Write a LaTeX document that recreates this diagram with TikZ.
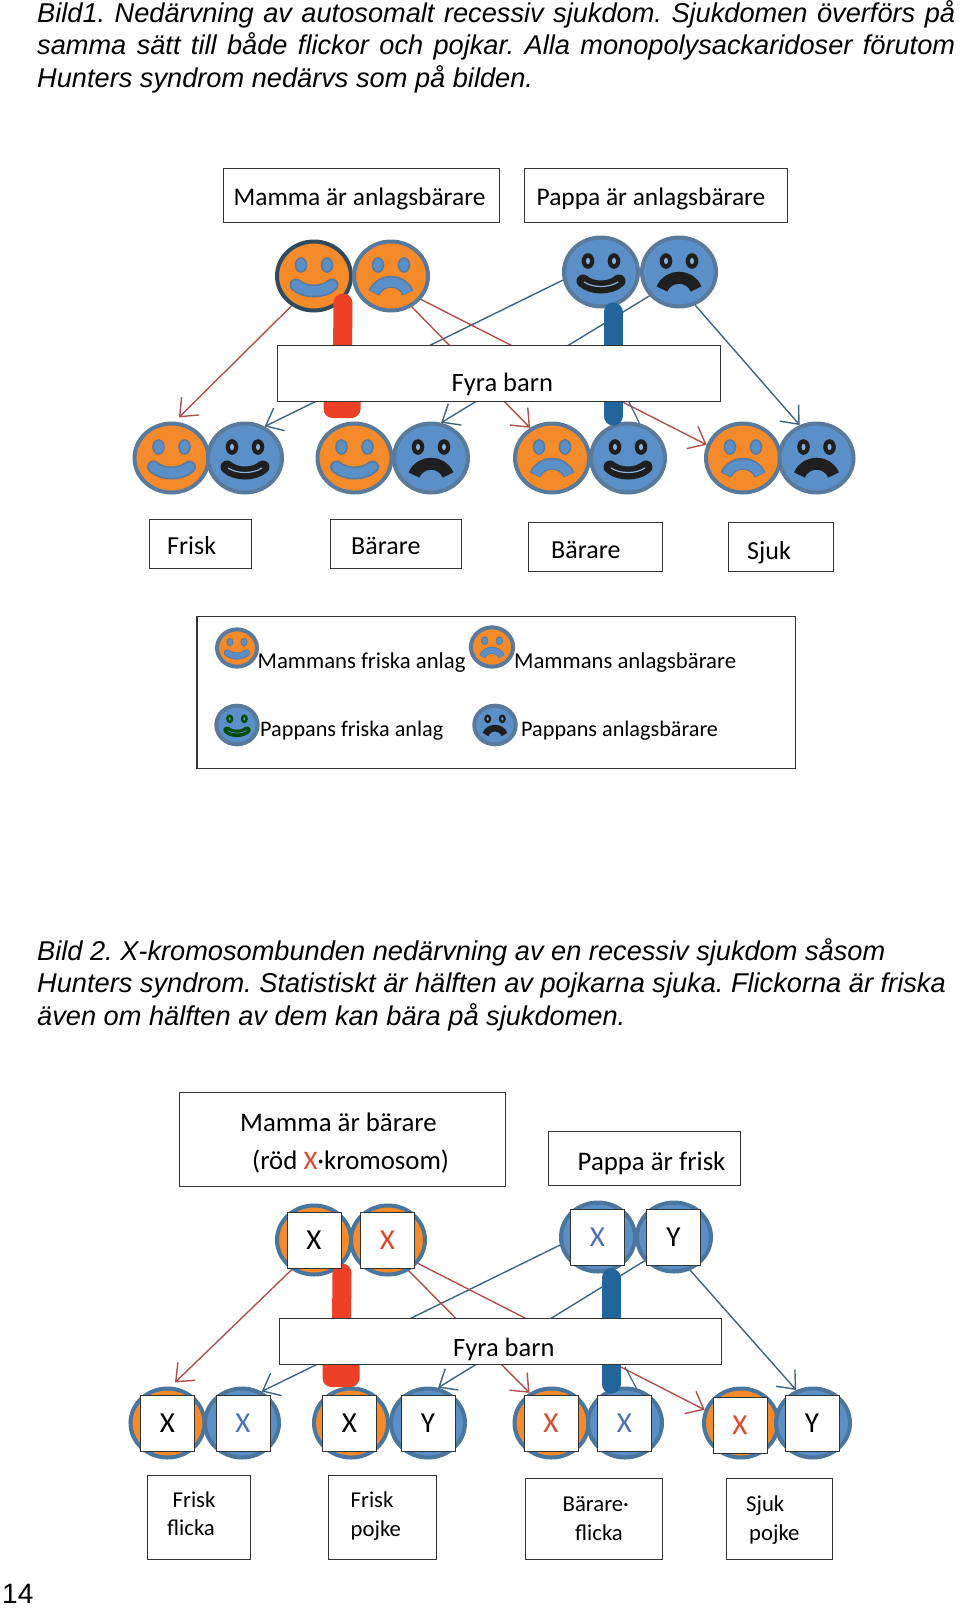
\documentclass[tikz,border=0pt]{standalone}
\usepackage{fontspec}
\setmainfont{Carlito}
\newfontfamily\capfont{Liberation Sans}
\usetikzlibrary{arrows.meta,shapes.geometric}

\definecolor{orangeface}{HTML}{F58A2A}
\definecolor{blueface}{HTML}{5B8FC7}
\definecolor{rimline}{HTML}{5A7A9C}
\definecolor{redline}{HTML}{B0504A}
\definecolor{blueline}{HTML}{3F6480}
\definecolor{redbarc}{HTML}{EE4027}
\definecolor{bluebarc}{HTML}{22649C}
\definecolor{xred}{HTML}{E2462A}
\definecolor{xblue}{HTML}{4A70B8}
% face kinds: fill, rim, feature, glint
\colorlet{mamfill}{orangeface}\colorlet{mamrim}{rimline}\colorlet{mamfeat}{blueface}\colorlet{mamglint}{blueface}
\colorlet{mamedge}{rimline}
\colorlet{mtopfill}{orangeface}\colorlet{mtoprim}{blueline!75!black}\colorlet{mtopfeat}{blueface}\colorlet{mtopglint}{blueface}
\colorlet{mtopedge}{rimline}
\colorlet{papfill}{blueface}\colorlet{paprim}{rimline}\colorlet{papfeat}{black!88}\colorlet{papglint}{blueface!70!white}
\colorlet{papedge}{black!88}
\colorlet{grnfill}{blueface}\colorlet{grnrim}{rimline}\colorlet{grnfeat}{green!30!black}\colorlet{grnglint}{blueface}
\colorlet{grnedge}{green!30!black}

\tikzset{
  face/.style={ellipse,minimum width=74pt,minimum height=69pt,inner sep=0pt,line width=4pt},
  mamface/.style={face,fill=orangeface,draw=blueline!60!blueface},
  papface/.style={face,fill=blueface,draw=blueline!60!blueface},
  labelbox/.style={rectangle,anchor=north west,draw=black!80,line width=1.1pt,fill=white,inner sep=0pt},
  labeltext/.style={anchor=base west,inner sep=0pt,font=\fontsize{26}{30}\selectfont},
  headtext/.style={labeltext,font=\fontsize{25.4}{30}\selectfont},
  widetext/.style={labeltext,font=\fontsize{26.8}{30}\selectfont},
  smalltext/.style={anchor=base west,inner sep=0pt,font=\fontsize{22.7}{27}\selectfont},
  dadtext/.style={smalltext,font=\fontsize{22.2}{27}\selectfont},
  captext/.style={anchor=base west,inner sep=0pt,font=\capfont\itshape\fontsize{27.2}{33}\selectfont},
  xbox/.style={rectangle,draw=black!80,line width=1pt,fill=white,inner sep=0pt,minimum width=54pt,minimum height=56pt,font=\fontsize{29}{32}\selectfont},
  redarrow/.style={draw=redline,line width=1.4pt,-{Straight Barb[length=15pt,width=25pt]}},
  bluearrow/.style={draw=blueline,line width=1.4pt,-{Straight Barb[length=15pt,width=25pt]}},
  redbar/.style={draw=redbarc,line width=19pt,line cap=round},
  bluebar/.style={draw=bluebarc,line width=19pt,line cap=round},
  redblob/.style={rectangle,fill=redbarc,rounded corners=9pt,inner sep=0pt,minimum width=37pt,minimum height=30pt},
}

\newcommand{\smileface}[5]{% name, place, scale, kind, mouth
  \begin{scope}[shift={#2},scale=#3,transform shape]
    \def\facescale{#3}
    \node[face,fill=#4fill,draw=#4rim] (#1) at (0,0) {};
    \draw[draw=#4edge,fill=#4feat,line width=#3*1.6pt] (-13,-11) ellipse (5.5 and 7);
    \draw[draw=#4edge,fill=#4feat,line width=#3*1.6pt] (13,-11) ellipse (5.5 and 7);
    \fill[#4glint] (-13,-11) ellipse (2 and 3.2);
    \fill[#4glint] (13,-11) ellipse (2 and 3.2);
    \csname mouth#5\endcsname{#4}
  \end{scope}}
\newcommand{\mouthsmile}[1]{%
  \draw[#1edge,line width=\facescale*13pt,line cap=round] (-18,9) .. controls (-9,17) and (9,17) .. (18,9);
  \draw[#1feat,line width=\facescale*9.5pt,line cap=round] (-18,9) .. controls (-9,17) and (9,17) .. (18,9);
  \draw[#1glint,line width=\facescale*1.2pt] (-17,10) .. controls (-8,16) and (8,16) .. (17,10);}
\newcommand{\mouthsad}[1]{%
  \draw[#1edge,line width=\facescale*12pt] (-17,17) .. controls (-11,2) and (11,2) .. (17,17);
  \draw[#1feat,line width=\facescale*9pt] (-16.5,16.5) .. controls (-11,2.5) and (11,2.5) .. (16.5,16.5);}

\begin{document}
\begin{tikzpicture}[x=1pt,y=-1pt]
\useasboundingbox (0,0) rectangle (960,1611);
\fill[white] (0,0) rectangle (960,1611);

% Caption 1
\frenchspacing
\node[captext] (capa) at (37,22.5) {\makebox[918pt][s]{Bild1. Nedärvning av autosomalt recessiv sjukdom. Sjukdomen överförs på}};
\node[captext] (capb) at (37,55) {\makebox[918pt][s]{samma sätt till både flickor och pojkar. Alla monopolysackaridoser förutom}};
\node[captext] (capc) at (37,87.5) {Hunters syndrom nedärvs som på bilden.};

% Parents, top picture
\node[labelbox,minimum width=276pt,minimum height=54pt] (mamA) at (222.5,168) {};
\node[labelbox,minimum width=263pt,minimum height=54pt] (papA) at (523.5,168) {};
\node[headtext] (mamAt) at (233.5,205) {Mamma är anlagsbärare};
\node[headtext] (papAt) at (536.5,205) {Pappa är anlagsbärare};

\smileface{mA}{(314,276)}{1}{mtop}{smile}
\smileface{mB}{(391,276)}{1}{mam}{sad}
\smileface{pA}{(601,272)}{1}{pap}{smile}
\smileface{pB}{(679,272)}{1}{pap}{sad}

% Children, top picture
\smileface{cA}{(171.5,458)}{1}{mam}{smile}
\smileface{cB}{(245,458)}{1}{pap}{smile}
\smileface{cC}{(354.5,458)}{1}{mam}{smile}
\smileface{cD}{(431,458)}{1}{pap}{sad}
\smileface{cE}{(552,458)}{1}{mam}{sad}
\smileface{cF}{(628,458)}{1}{pap}{smile}
\smileface{cG}{(743,458)}{1}{mam}{sad}
\smileface{cH}{(816.5,458)}{1}{pap}{sad}

% Lines of descent
\draw[redarrow,shorten >=6pt] (mA.233) -- (cA.85);
\draw[bluearrow] (pA.192) -- (cB.58);
\draw[redarrow] (mB.304) -- (cE.126);
\draw[bluearrow] (pB.219) -- (cD.74);
\draw[redarrow] (mB.322) -- (cG.160);
\draw[bluearrow] (pB.296) -- (cH.117);

% Thick bars
\coordinate (rbarA) at (343,303);
\coordinate (bbarA) at (613,312);
\coordinate (bbarB) at (613,416);
\node[redblob] (rblobA) at (342,403) {};
\draw[redbar] (rbarA) -- (rblobA.center);
\draw[bluebar] (bbarA) -- (bbarB);
\coordinate (stubA) at (627,398);
\draw[blueline,line width=1.2pt] (stubA) -- (cF.72);

\node[labelbox,minimum width=443pt,minimum height=56pt] (fyraA) at (277,345) {};
\node[labeltext,font=\fontsize{26.5}{30}\selectfont] (fyraAt) at (451.5,391.5) {Fyra barn};

% Names under the children
\node[labelbox,minimum width=102pt,minimum height=49pt] (friskA) at (148.5,518.5) {};
\node[labelbox,minimum width=130.5pt,minimum height=49pt] (barA) at (330,518.5) {};
\node[labelbox,minimum width=134pt,minimum height=49pt] (barB) at (527.5,522) {};
\node[labelbox,minimum width=105.5pt,minimum height=49pt] (sjukA) at (727.5,522) {};
\node[labeltext] (friskAt) at (167,554.5) {Frisk};
\node[labeltext] (barAt) at (351,554.5) {Bärare};
\node[labeltext] (barBt) at (551,558.5) {Bärare};
\node[labeltext] (sjukAt) at (747,559) {Sjuk};

% Legend
\node[labelbox,minimum width=598.5pt,minimum height=152pt,line width=1.6pt] (legend) at (196,615.5) {};
\smileface{lA}{(237,648)}{.54}{mam}{smile}
\smileface{lB}{(492,647)}{.57}{mam}{sad}
\smileface{lC}{(237,725)}{.56}{grn}{smile}
\smileface{lD}{(495,725)}{.56}{pap}{sad}
\node[smalltext] (lAt) at (257.5,668) {Mammans friska anlag};
\node[smalltext] (lBt) at (514,668) {Mammans anlagsbärare};
\node[dadtext] (lCt) at (260,736.5) {Pappans friska anlag};
\node[dadtext] (lDt) at (521,736.5) {Pappans anlagsbärare};

% Caption 2
\node[captext] (capd) at (37,960) {Bild 2. X-kromosombunden nedärvning av en recessiv sjukdom såsom};
\node[captext] (cape) at (37,992.5) {Hunters syndrom. Statistiskt är hälften av pojkarna sjuka. Flickorna är friska};
\node[captext] (capf) at (37,1025) {även om hälften av dem kan bära på sjukdomen.};

% Parents, bottom picture
\node[labelbox,minimum width=326pt,minimum height=94pt] (mamB) at (178.5,1091.5) {};
\node[labelbox,minimum width=192pt,minimum height=54pt] (papB) at (547.5,1130.5) {};
\node[widetext] (mamBt) at (240,1131.5) {Mamma är bärare};
\node[widetext] (mamCt) at (252,1169.5) {(röd {\color{xred}X}·kromosom)};
\node[widetext] (papBt) at (577.5,1170.5) {Pappa är frisk};

\node[mamface] (xmA) at (314,1240) {};
\node[mamface] (xmB) at (388,1240) {};
\node[papface] (xpA) at (598,1237) {};
\node[papface] (xpB) at (674,1237) {};

\node[mamface] (xcA) at (167.5,1423) {};
\node[papface] (xcB) at (242,1423) {};
\node[mamface] (xcC) at (351,1423) {};
\node[papface] (xcD) at (428,1423) {};
\node[mamface] (xcE) at (551.5,1423) {};
\node[papface] (xcF) at (625,1423) {};
\node[mamface] (xcG) at (741,1423) {};
\node[papface] (xcH) at (813,1423) {};

% Lines of descent
\draw[redarrow,shorten >=6pt] (xmA.233) -- (xcA.85);
\draw[bluearrow] (xpA.192) -- (xcB.58);
\draw[redarrow] (xmB.304) -- (xcE.126);
\draw[bluearrow] (xpB.219) -- (xcD.74);
\draw[redarrow] (xmB.322) -- (xcG.160);
\draw[bluearrow] (xpB.296) -- (xcH.117);

% Thick bars
\coordinate (rbarB) at (342,1273);
\coordinate (bbarC) at (611,1278);
\coordinate (bbarD) at (611,1384);
\node[redblob] (rblobB) at (341,1372) {};
\draw[redbar] (rbarB) -- (rblobB.center);
\draw[bluebar] (bbarC) -- (bbarD);
\coordinate (stubB) at (625,1367);
\draw[blueline,line width=1.2pt] (stubB) -- (xcF.72);

\node[labelbox,minimum width=442pt,minimum height=46pt] (fyraB) at (279,1318) {};
\node[labeltext,font=\fontsize{26.5}{30}\selectfont] (fyraBt) at (453,1356.5) {Fyra barn};

% Chromosomes
\node[xbox] (sqmA) at (314,1240) {X};
\node[xbox] (sqmB) at (387.5,1240) {\color{xred}X};
\node[xbox] (sqpA) at (597.5,1237) {\color{xblue}X};
\node[xbox] (sqpB) at (673.5,1237) {Y};
\node[xbox] (sqcA) at (167.5,1423) {X};
\node[xbox] (sqcB) at (243,1423) {\color{xblue}X};
\node[xbox] (sqcC) at (349.5,1423) {X};
\node[xbox] (sqcD) at (428,1423) {Y};
\node[xbox] (sqcE) at (551,1423) {\color{xred}X};
\node[xbox] (sqcF) at (624.5,1423) {\color{xblue}X};
\node[xbox] (sqcG) at (740,1425) {\color{xred}X};
\node[xbox] (sqcH) at (812,1423) {Y};

% Names under the children
\node[labelbox,minimum width=103pt,minimum height=84pt] (friskB) at (146.5,1474.5) {};
\node[labelbox,minimum width=107.5pt,minimum height=84pt] (friskC) at (328,1474.5) {};
\node[labelbox,minimum width=137pt,minimum height=81pt] (barC) at (525,1477.5) {};
\node[labelbox,minimum width=105.5pt,minimum height=81pt] (sjukB) at (726,1477.5) {};
\node[smalltext] (friskBt) at (172.5,1507) {Frisk};
\node[smalltext] (flickaBt) at (167,1535) {flicka};
\node[smalltext] (friskCt) at (350.5,1507) {Frisk};
\node[smalltext] (pojkeCt) at (350.5,1536) {pojke};
\node[smalltext] (barCt) at (562.5,1511) {Bärare·};
\node[smalltext] (flickaCt) at (575,1540.5) {flicka};
\node[smalltext] (sjukBt) at (746,1511) {Sjuk};
\node[smalltext] (pojkeBt) at (749,1540) {pojke};

% Page number
\node[anchor=base west,inner sep=0pt,font=\capfont\fontsize{28}{32}\selectfont] (pagenr) at (2,1603) {14};
\end{tikzpicture}
\end{document}
